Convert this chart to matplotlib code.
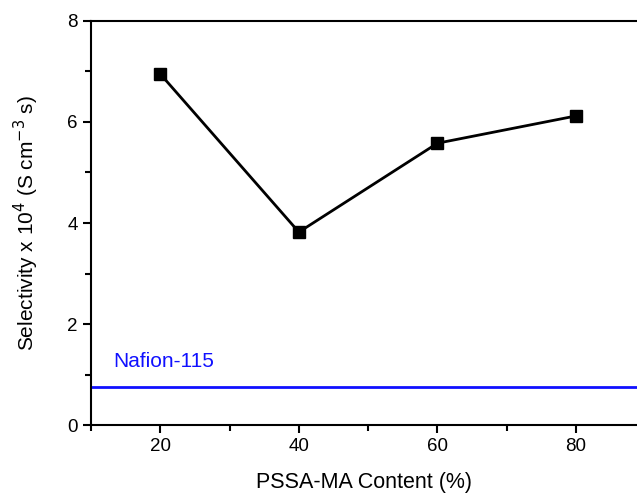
import matplotlib.pyplot as plt
from matplotlib.ticker import MultipleLocator

plt.rcParams['font.family'] = ['Liberation Sans', 'DejaVu Sans']

# data
content = [20, 40, 60, 80]
selectivity = [6.95, 3.82, 5.58, 6.12]
nafion = 0.76

fig = plt.figure(figsize=(6.37, 4.96), dpi=100)
ax = fig.add_axes([0.1429, 0.1431, 0.8571, 0.8146])

ax.plot(content, selectivity, color='black', lw=2, marker='s', ms=8,
        markerfacecolor='black')
ax.axhline(nafion, color='#1010ff', lw=2)
ax.text(13.2, 1.25, 'Nafion-115', color='#1010ff', fontsize=15, va='center')

ax.set_xlim(10, 88.8)
ax.set_ylim(0, 8)
ax.xaxis.set_major_locator(MultipleLocator(20))
ax.xaxis.set_minor_locator(MultipleLocator(10))
ax.yaxis.set_major_locator(MultipleLocator(2))
ax.yaxis.set_minor_locator(MultipleLocator(1))
ax.tick_params(which='major', direction='out', length=6, width=1.5, labelsize=13.5)
ax.tick_params(which='minor', direction='out', length=4, width=1.5)
for s in ['left', 'bottom', 'top']:
    ax.spines[s].set_linewidth(1.5)
ax.spines['right'].set_visible(False)

ax.set_xlabel('PSSA-MA Content (%)', fontsize=15.5, labelpad=12)
ax.set_ylabel('Selectivity x 10$^4$ (S cm$^{-3}$ s)', fontsize=15, labelpad=19)

fig.savefig('out.png', dpi=100)
